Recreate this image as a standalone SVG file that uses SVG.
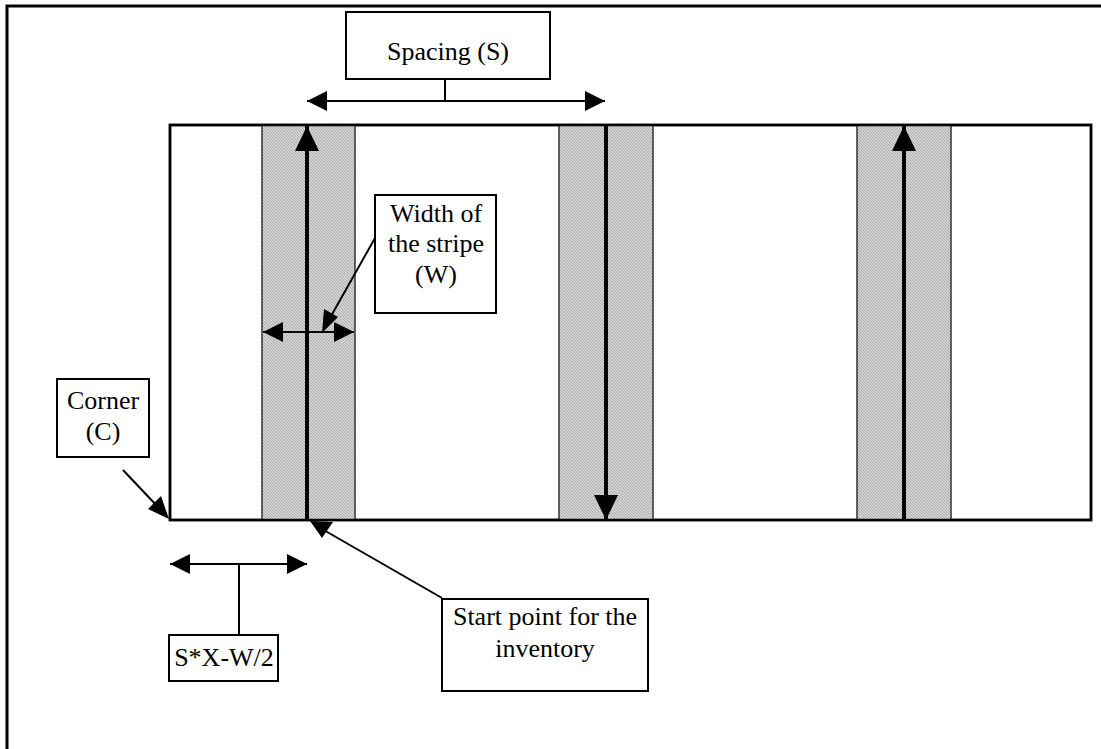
<svg xmlns="http://www.w3.org/2000/svg" width="1101" height="749" viewBox="0 0 1101 749">
<defs>
<pattern id="hatch" patternUnits="userSpaceOnUse" width="3" height="3">
<rect width="3" height="3" fill="#d4d4d4"/>
<path d="M-1,-1 L4,4 M-1,2 L1,4 M2,-1 L4,1" stroke="#a0a0a0" stroke-width="0.8"/>
</pattern>
<marker id="bigArrow" markerUnits="userSpaceOnUse" viewBox="0 0 25 24" refX="25" refY="12" markerWidth="25" markerHeight="24" orient="auto">
<path d="M0,0 L25,12 L0,24 Z" fill="#000"/>
</marker>
<marker id="arrow" markerUnits="userSpaceOnUse" viewBox="0 0 20 20" refX="20" refY="10" markerWidth="20" markerHeight="20" orient="auto-start-reverse">
<path d="M0,0 L20,10 L0,20 Z" fill="#000"/>
</marker>
</defs>
<style>
.box{fill:#fff;stroke:#000;stroke-width:2}
.stripe{fill:url(#hatch);stroke:#333;stroke-width:1.5}
.lbl{font-family:"Liberation Serif","Times New Roman",serif;font-size:26px;fill:#000;text-anchor:middle}
.ln{stroke:#000;stroke-width:2;fill:none}
.thick{stroke:#000;stroke-width:4;fill:none;marker-end:url(#bigArrow)}
.dbl{stroke:#000;stroke-width:2;fill:none;marker-start:url(#arrow);marker-end:url(#arrow)}
</style>
<rect x="0" y="0" width="1101" height="749" fill="#fff"/>
<rect x="7" y="6" width="1200" height="900" fill="none" stroke="#000" stroke-width="3"/>
<g id="field">
<rect x="170" y="125" width="921" height="395" fill="#fff" stroke="#000" stroke-width="2.5"/>
</g>
<g id="stripe1"><rect class="stripe" x="262" y="125" width="93" height="395"/></g>
<g id="stripe2"><rect class="stripe" x="559" y="125" width="94" height="395"/></g>
<g id="stripe3"><rect class="stripe" x="857" y="125" width="94" height="395"/></g>
<g id="field-border">
<rect x="170" y="125" width="921" height="395" fill="none" stroke="#000" stroke-width="2.5"/>
</g>
<g id="connectors">
<line class="thick" x1="307" y1="520" x2="307" y2="126"/>
<line class="thick" x1="606" y1="126" x2="606" y2="520"/>
<line class="thick" x1="904" y1="520" x2="904" y2="126"/>
<line class="dbl" x1="263" y1="332" x2="354" y2="332"/>
<line class="ln" x1="375" y1="238" x2="330" y2="318"/>
<path d="M322,333 L324,309 L338,317 Z" fill="#000"/>
<line class="dbl" x1="307" y1="101" x2="605" y2="101"/>
<line class="ln" x1="445" y1="79" x2="445" y2="101"/>
<line class="ln" x1="123" y1="470" x2="158" y2="507"/>
<path d="M169,519 L148,509 L161,496 Z" fill="#000"/>
<line class="ln" x1="442" y1="598" x2="322" y2="529"/>
<path d="M310,521 L333,522 L322,538 Z" fill="#000"/>
<line class="dbl" x1="170" y1="564" x2="307" y2="564"/>
<line class="ln" x1="239" y1="564" x2="239" y2="635"/>
</g>
<g id="spacing-label">
<rect class="box" x="346" y="12" width="204" height="67"/>
<text class="lbl" x="448" y="60">Spacing (S)</text>
</g>
<g id="width-label">
<rect class="box" x="375" y="195" width="121" height="118"/>
<text class="lbl" x="436" y="222">Width of</text>
<text class="lbl" x="436" y="252">the stripe</text>
<text class="lbl" x="436" y="283">(W)</text>
</g>
<g id="corner-label">
<rect class="box" x="57" y="379" width="92" height="78"/>
<text class="lbl" x="103" y="409">Corner</text>
<text class="lbl" x="103" y="440">(C)</text>
</g>
<g id="start-label">
<rect class="box" x="442" y="599" width="206" height="92"/>
<text class="lbl" x="545" y="625">Start point for the</text>
<text class="lbl" x="545" y="657">inventory</text>
</g>
<g id="sxw-label">
<rect class="box" x="169" y="635" width="109" height="46"/>
<text class="lbl" x="224" y="666">S*X-W/2</text>
</g>
</svg>
